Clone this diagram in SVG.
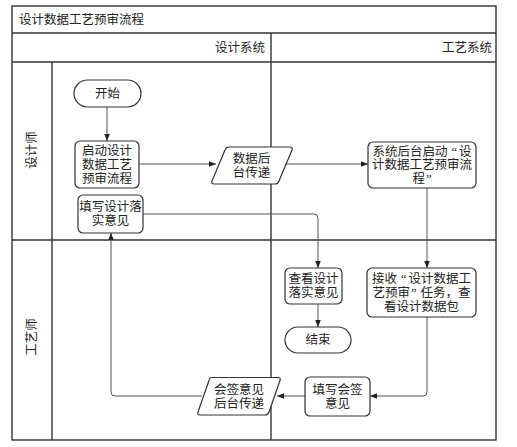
<svg xmlns="http://www.w3.org/2000/svg" width="517" height="447" viewBox="0 0 517 447">
<defs>
<style>
.frame{fill:none;stroke:#333;stroke-width:1.4}
.node{fill:#fff;stroke:#333;stroke-width:1.2}
.conn{fill:none;stroke:#555;stroke-width:1}
text{font-family:"Liberation Serif","Noto Sans CJK SC",serif;font-size:12.5px;fill:#222}
.c{text-anchor:middle;dominant-baseline:central}
</style>
<marker id="arr" viewBox="0 0 10 10" refX="10" refY="5" markerWidth="7" markerHeight="7" markerUnits="userSpaceOnUse" orient="auto">
<path d="M0,1 L10,5 L0,9 Z" fill="#222"/>
</marker>
</defs>
<rect x="0" y="0" width="517" height="447" fill="#fff"/>
<g id="frame">
<rect class="frame" x="12" y="6" width="484" height="434"/>
<line class="frame" x1="12" y1="33" x2="496" y2="33"/>
<line class="frame" x1="12" y1="62" x2="496" y2="62"/>
<line class="frame" x1="271" y1="33" x2="271" y2="440"/>
<line class="frame" x1="52" y1="62" x2="52" y2="440"/>
<line class="frame" x1="12" y1="240" x2="496" y2="240"/>
<text x="19" y="20" dominant-baseline="central">设计数据工艺预审流程</text>
<text x="265" y="48" text-anchor="end" dominant-baseline="central">设计系统</text>
<text x="492" y="48" text-anchor="end" dominant-baseline="central">工艺系统</text>
<text class="c" transform="translate(32,150) rotate(-90)">设计师</text>
<text class="c" transform="translate(32,337) rotate(-90)">工艺师</text>
</g>
<g id="connectors">
<line class="conn" x1="107" y1="107" x2="107" y2="141" marker-end="url(#arr)"/>
<line class="conn" x1="139" y1="164" x2="216" y2="164" marker-end="url(#arr)"/>
<line class="conn" x1="285" y1="164" x2="368" y2="164" marker-end="url(#arr)"/>
<line class="conn" x1="427" y1="188" x2="427" y2="268" marker-end="url(#arr)"/>
<path class="conn" d="M427,317 V392 Q427,396 423,396 H370" marker-end="url(#arr)"/>
<line class="conn" x1="305" y1="396" x2="277" y2="396" marker-end="url(#arr)"/>
<path class="conn" d="M202,396 H115 Q111,396 111,392 V233" marker-end="url(#arr)"/>
<path class="conn" d="M143,214 H314 Q318,214 318,218 V268" marker-end="url(#arr)"/>
<line class="conn" x1="318" y1="304" x2="318" y2="327" marker-end="url(#arr)"/>
</g>
<g id="start">
<rect class="node" x="74" y="80" width="67" height="27" rx="13.5"/>
<text class="c" x="107.5" y="93.5">开始</text>
</g>
<g id="launch">
<rect class="node" x="75" y="141" width="64" height="47" rx="5"/>
<text class="c" x="107" y="150.5">启动设计</text>
<text class="c" x="107" y="164.5">数据工艺</text>
<text class="c" x="107" y="178.5">预审流程</text>
</g>
<g id="fill-design">
<rect class="node" x="78" y="195" width="65" height="38" rx="5"/>
<text class="c" x="110.5" y="207">填写设计落</text>
<text class="c" x="110.5" y="221">实意见</text>
</g>
<g id="transfer1">
<path class="node" d="M229,147 H290 Q293,147 292,150 L279,181 Q278,184 275,184 H214 Q211,184 212,181 L225,150 Q226,147 229,147 Z"/>
<text class="c" x="251.5" y="158.5">数据后</text>
<text class="c" x="251.5" y="172.5">台传递</text>
</g>
<g id="sys-launch">
<rect class="node" x="368" y="142" width="108" height="46" rx="5"/>
<text class="c" x="422" y="151.5">系统后台启动<tspan dx="4">“</tspan><tspan dx="2">设</tspan></text>
<text class="c" x="422" y="165">计数据工艺预审流</text>
<text class="c" x="422" y="178.5">程<tspan dx="1">”</tspan></text>
</g>
<g id="view">
<rect class="node" x="285" y="268" width="57" height="36" rx="5"/>
<text class="c" x="313.5" y="279">查看设计</text>
<text class="c" x="313.5" y="293">落实意见</text>
</g>
<g id="end">
<rect class="node" x="285" y="327" width="66" height="26" rx="13"/>
<text class="c" x="318" y="340">结束</text>
</g>
<g id="receive">
<rect class="node" x="367" y="268" width="109" height="49" rx="5"/>
<text class="c" x="421.5" y="278.5">接收<tspan dx="4">“</tspan><tspan dx="2">设计数据工</tspan></text>
<text class="c" x="421.5" y="292.5">艺预审<tspan dx="1">”</tspan><tspan dx="4">任务，查</tspan></text>
<text class="c" x="421.5" y="306.5">看设计数据包</text>
</g>
<g id="countersign">
<rect class="node" x="305" y="377" width="65" height="39" rx="5"/>
<text class="c" x="337.5" y="389.5">填写会签</text>
<text class="c" x="337.5" y="403.5">意见</text>
</g>
<g id="transfer2">
<path class="node" d="M211,377.5 H278 Q281,377.5 280,380.5 L269,412 Q268,415 265,415 H200 Q197,415 198,412 L209,380.5 Q210,377.5 211,377.5 Z"/>
<text class="c" x="239" y="389.5">会签意见</text>
<text class="c" x="239" y="403.5">后台传递</text>
</g>
</svg>
